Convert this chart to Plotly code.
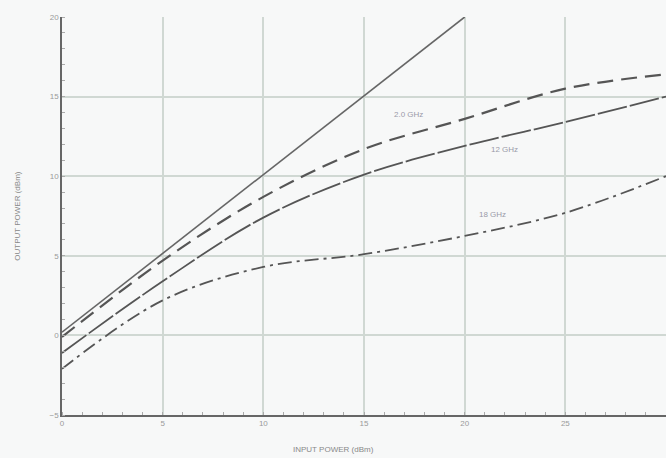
import plotly.graph_objects as go

input_power = [0, 5, 10, 15, 20, 25, 30]
linear_x = [0, 20]
linear_y = [0.2, 20]
ghz2_y = [-0.1, 4.7, 8.7, 11.7, 13.6, 15.5, 16.4]
ghz12_y = [-1.1, 3.4, 7.4, 10.1, 11.9, 13.4, 15.0]
ghz18_y = [-2.1, 2.2, 4.3, 5.1, 6.25, 7.7, 10.0]
labels = ["2.0 GHz", "12 GHz", "18 GHz"]
label_x = [17.2, 22.0, 21.4]
label_y = [13.9, 11.7, 7.6]

line_col = "#555555"
fig = go.Figure()
fig.add_trace(go.Scatter(x=linear_x, y=linear_y, mode="lines",
                         line=dict(color="#666666", width=1.6)))
fig.add_trace(go.Scatter(x=input_power, y=ghz2_y, mode="lines", line_shape="spline",
                         line=dict(color=line_col, width=2.2, dash="16px,8px")))
fig.add_trace(go.Scatter(x=input_power, y=ghz12_y, mode="lines", line_shape="spline",
                         line=dict(color=line_col, width=1.8, dash="30px,3px")))
fig.add_trace(go.Scatter(x=input_power, y=ghz18_y, mode="lines", line_shape="spline",
                         line=dict(color=line_col, width=1.8, dash="14px,5px,3px,5px")))

for t, x, y in zip(labels, label_x, label_y):
    fig.add_annotation(x=x, y=y, text=t, showarrow=False,
                       font=dict(size=8, color="#9a9aa8", family="Liberation Sans"))

fig.add_annotation(xref="paper", yref="paper", x=0.45, y=-0.07, yanchor="top",
                   text="INPUT POWER (dBm)", showarrow=False,
                   font=dict(size=8, color="#888888"))
fig.add_annotation(xref="paper", yref="paper", x=-0.075, y=0.5, xanchor="center",
                   textangle=-90, text="OUTPUT POWER (dBm)", showarrow=False,
                   font=dict(size=8, color="#888888"))

fig.update_layout(
    width=666, height=458,
    margin=dict(l=62, r=0, t=17, b=43),
    paper_bgcolor="#f7f8f8", plot_bgcolor="#f7f8f8",
    showlegend=False,
    font=dict(family="Liberation Sans", size=8, color="#9a9a9a"),
)
fig.update_xaxes(range=[0, 30], tickvals=[0, 5, 10, 15, 20, 25, 30],
                 showgrid=True, gridcolor="#d0d8d3", gridwidth=1.5,
                 showline=True, linecolor="#666666", linewidth=1.5,
                 ticks="", zeroline=False, automargin=False,
                 minor=dict(dtick=1, ticks="inside", ticklen=3, tickcolor="#aaaaaa", showgrid=False))
fig.update_yaxes(range=[-5, 20], tickvals=[-5, 0, 5, 10, 15, 20],
                 showgrid=True, gridcolor="#d0d8d3", gridwidth=1.5,
                 showline=True, linecolor="#666666", linewidth=1.5,
                 ticks="", zeroline=False, automargin=False,
                 minor=dict(dtick=1, ticks="inside", ticklen=3, tickcolor="#aaaaaa", showgrid=False))

fig.write_html("out.html", config={"displayModeBar": False},
               post_script="document.body.style.margin='0';document.body.style.overflow='hidden';")
